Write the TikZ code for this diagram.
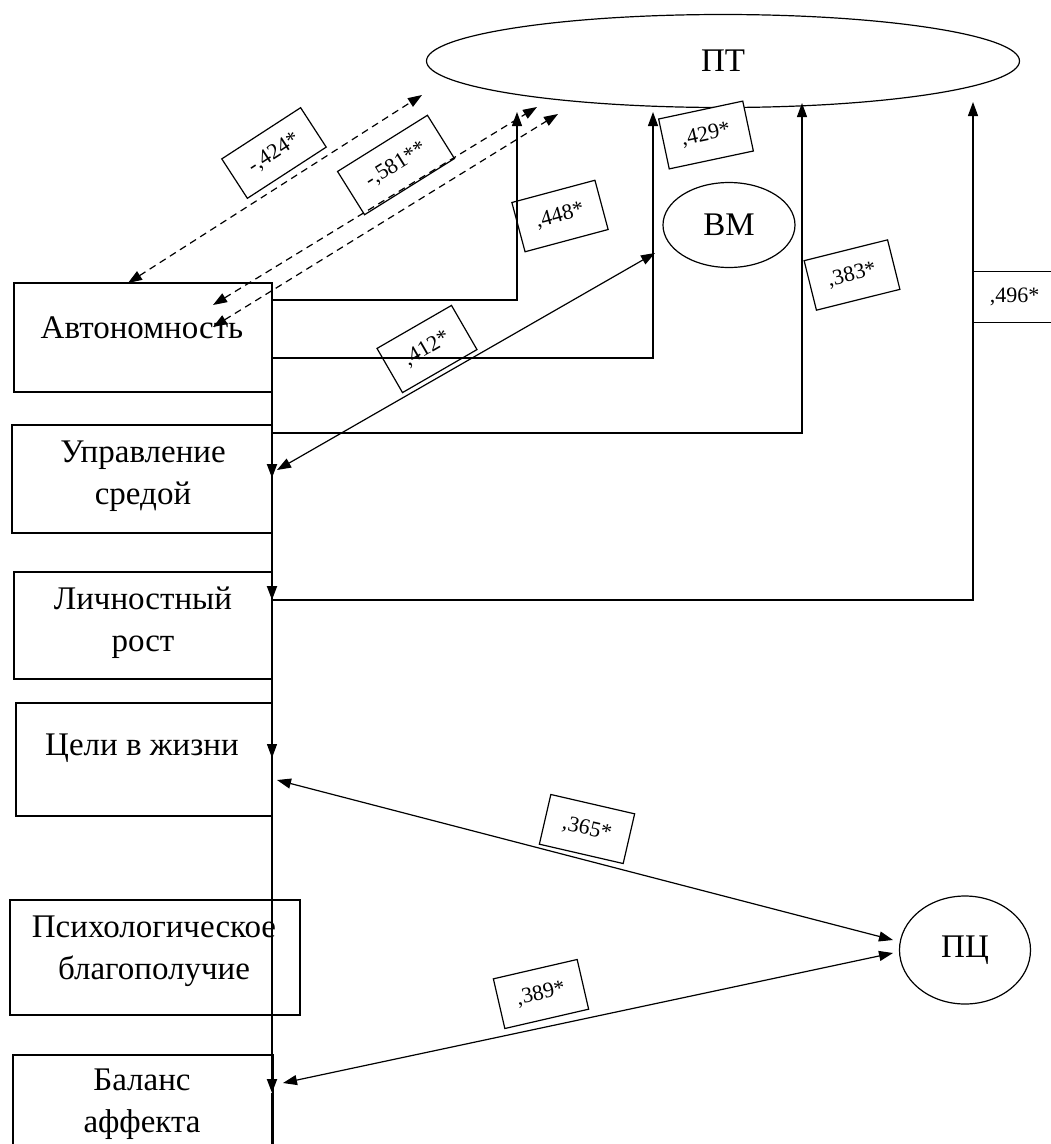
\documentclass[tikz,border=0pt]{standalone}
\usepackage{fontspec}
\setmainfont{Liberation Serif}
\usetikzlibrary{shapes.geometric,arrows.meta}

\tikzset{
  var/.style={draw, rectangle, line width=1.2pt, inner sep=0pt},
  lat/.style={draw, ellipse, line width=1.2pt, inner sep=0pt, font=\fontsize{33}{36}\selectfont},
  txt/.style={align=center, inner sep=0pt, font=\fontsize{33}{42}\selectfont},
  coef/.style={draw, rectangle, line width=1.2pt, minimum width=86, minimum height=51, inner sep=0pt, font=\fontsize{22}{24}\selectfont},
  link/.style={line width=1.2pt, >={Triangle[length=14pt,width=10pt]}},
  corr/.style={link, dash pattern=on 7pt off 5pt},
}

\begin{document}
\begin{tikzpicture}[x=1pt,y=-1pt]
\useasboundingbox (0,0) rectangle (1051,1144);
% latent variables
\node[lat, minimum width=593, minimum height=93] (PT) at (723,61) {ПТ};
\node[lat, minimum width=132, minimum height=85] (VM) at (729,225) {ВМ};
\node[lat, minimum width=131, minimum height=108] (PC) at (965,950) {ПЦ};
% scales
\node[var, minimum width=258, minimum height=109] (avt) at (143,337.5) {};
\node[var, minimum width=260, minimum height=108] (upr) at (142,479) {};
\node[var, minimum width=258, minimum height=107] (lich) at (143,625.5) {};
\node[var, minimum width=256, minimum height=113] (cel) at (144,759.5) {};
\node[var, minimum width=290, minimum height=115] (psy) at (155,957.5) {};
\node[var, minimum width=260, minimum height=110] (bal) at (143,1110) {};
\node[txt] (avt-t) at (142,328) {Автономность};
\node[txt] (upr-t) at (143,476) {Управление\\средой};
\node[txt] (lich-t) at (143,623) {Личностный\\рост};
\node[txt] (cel-t) at (142,748) {Цели в жизни};
\node[txt] (psy-t) at (154,951) {Психологическое\\благополучие};
\node[txt] (bal-t) at (142,1104) {Баланс\\аффекта};
% trunk
\coordinate (t0) at (272,300);
\coordinate (t1) at (272,358);
\coordinate (t2) at (272,433);
\coordinate (tu) at (272,478);
\coordinate (tl) at (272,600);
\coordinate (tm) at (272,680);
\coordinate (tc) at (272,758);
\coordinate (tb0) at (272,1055);
\coordinate (tb) at (272,1093);
\coordinate (tend) at (272,1150);
\draw[link, line width=2pt, ->] (t0) -- (tu);
\draw[link, line width=2pt, ->] (tu) -- (tl);
\draw[link, line width=2pt] (tl) -- (tm);
\draw[link, ->] (tm) -- (tc);
\draw[link] (tc) -- (tb0);
\draw[link, line width=2pt, ->] (tb0) -- (tb);
\draw[link] (tb) -- (tend);
% paths to PT
\coordinate (p1) at (517,112);
\coordinate (p2) at (653,112);
\coordinate (p3) at (802,103);
\coordinate (p4) at (973,102);
\draw[link, ->] (t0) -| (p1);
\draw[link, ->] (t1) -| (p2);
\draw[link, ->] (t2) -| (p3);
\draw[link, ->] (tl) -| (p4);
% correlations
\coordinate (d1a) at (128,283);
\coordinate (d1b) at (422,95);
\coordinate (d2a) at (213,305);
\coordinate (d2b) at (537,107);
\coordinate (d3a) at (213,327);
\coordinate (d3b) at (558,114);
\draw[corr, <->] (d1a) -- (d1b);
\draw[corr, <->] (d2a) -- (d2b);
\draw[corr, <->] (d3a) -- (d3b);
\coordinate (u1) at (277,470);
\coordinate (v1) at (655,253);
\coordinate (c1) at (277,780);
\coordinate (q1) at (893,940);
\coordinate (b1) at (283,1083);
\coordinate (q2) at (893,953);
\draw[link, <->] (u1) -- (v1);
\draw[link, <->] (c1) -- (q1);
\draw[link, <->] (b1) -- (q2);
% coefficients
\node[coef, minimum width=94, minimum height=47, rotate=33] (k424) at (274,153) {-,424*};
\node[coef, minimum width=106, rotate=32] (k581) at (396,165) {-,581**};
\node[coef, rotate=15] (k448) at (560,216) {,448*};
\node[coef, rotate=30] (k412) at (427,349) {,412*};
\node[coef, fill=white, rotate=12] (k429) at (706,135) {,429*};
\node[coef, rotate=14] (k383) at (852,275) {,383*};
\node[coef, minimum width=90, anchor=west] (k496) at (973,297) {\hspace*{-8pt},496*};
\node[coef, rotate=-13] (k365) at (587,829) {,365*};
\node[coef, rotate=13] (k389) at (541,994) {,389*};
\end{tikzpicture}
\end{document}
